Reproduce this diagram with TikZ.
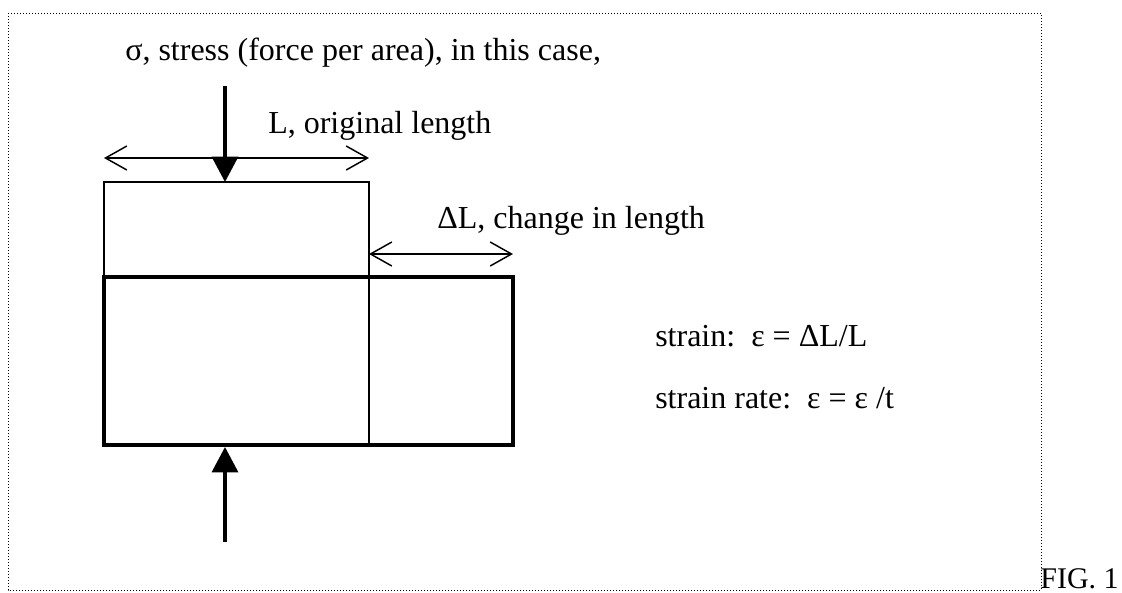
\documentclass[tikz,border=0pt]{standalone}
\usepackage{fontspec}
\setmainfont{Liberation Serif}
\usetikzlibrary{positioning, arrows.meta}

\begin{document}
\begin{tikzpicture}[x=0.75pt, y=-0.75pt,
          lbl/.style={font=\fontsize{24}{28}\selectfont, anchor=base west, inner sep=0pt},
          dim/.style={line width=1.1pt, {Straight Barb[length=16pt, width=18pt]}-{Straight Barb[length=16pt, width=18pt]}},
          force/.style={line width=2.4pt, -{Triangle[length=19pt, width=19.5pt]}}]
        \useasboundingbox (0,0) rectangle (1122,593);
        \draw[line width=0.75pt, dash pattern=on 0.75pt off 1.5pt] (8,13) rectangle (1041,590);
        % specimen before and after loading
        \draw[line width=1.1pt] (104,277) |- (369,182) -- (369,445);
        \draw[line width=3pt] (104,277) rectangle (513,445);
        \coordinate (topforce) at (225,86);
        \coordinate (toptip) at (225,182);
        \coordinate (botforce) at (225,542);
        \coordinate (bottip) at (225,447);
        \coordinate (Lstart) at (104,158);
        \coordinate (Lend) at (369,158);
        \coordinate (dLstart) at (369,254);
        \coordinate (dLend) at (513,254);
        \draw[force] (topforce) -- (toptip);
        \draw[force] (botforce) -- (bottip);
        \draw[dim] (Lstart) -- (Lend);
        \draw[dim] (dLstart) -- (dLend);
        \node[lbl] (sigmalbl) at (125,60) {σ, stress (force per area), in this case,};
        \node[lbl] (Llbl) at (268,133) {L, original length};
        \node[lbl] (dLlbl) at (437,228) {ΔL, change in length};
        \node[lbl] (strainlbl) at (655,346) {strain:~~ε = ΔL/L};
        \node[lbl] (ratelbl) at ([yshift=-46.5pt]strainlbl.base west) {strain rate:~~ε = ε /t};
        \node[lbl, font=\fontsize{22.5}{27}\selectfont, anchor=base east] (figlbl) at (1119,588) {FIG. 1};
      \end{tikzpicture}
\end{document}
